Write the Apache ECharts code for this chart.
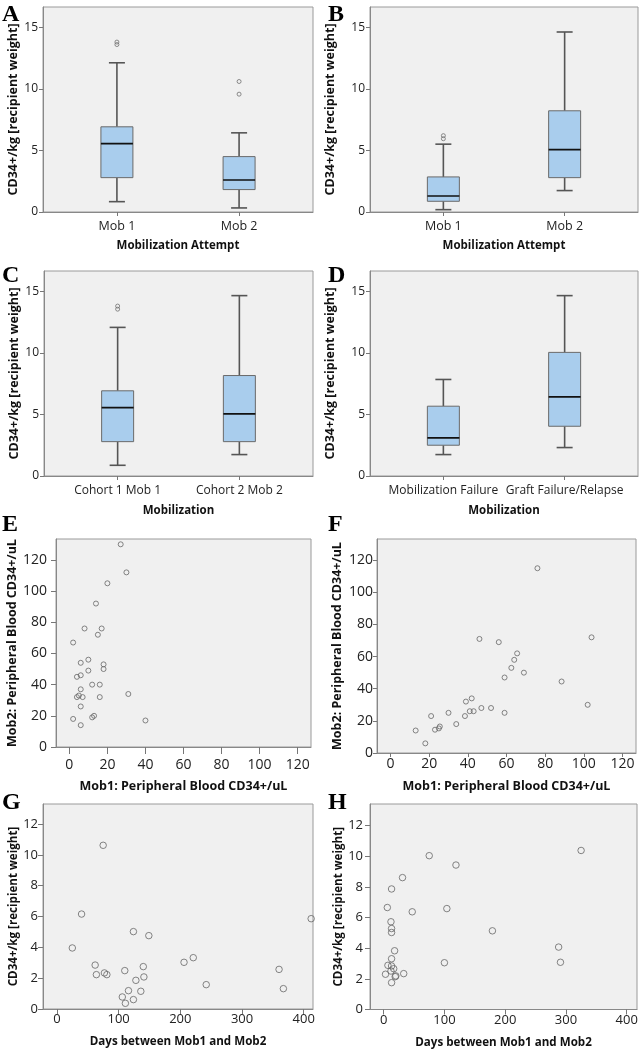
<!DOCTYPE html>
<html><head><meta charset="utf-8">
<script src="https://cdn.jsdelivr.net/npm/echarts@6/dist/echarts.min.js"></script>
<style>html,body{margin:0;padding:0;background:#fff}#c{width:642px;height:1050px}</style>
</head><body><div id="c"></div>
<script>
// ---------- data ----------
const catsMob = ['Mob 1', 'Mob 2'];
const catsCohort = ['Cohort 1 Mob 1', 'Cohort 2 Mob 2'];
const catsOutcome = ['Mobilization Failure', 'Graft Failure/Relapse'];
// [min whisker, Q1, median, Q3, max whisker]
const boxA = [[0.84, 2.79, 5.56, 6.92, 12.12], [0.33, 1.82, 2.60, 4.50, 6.43]];
const outA = [[0, 13.8], [0, 13.6], [1, 10.6], [1, 9.57]];
const boxB = [[0.19, 0.87, 1.30, 2.85, 5.51], [1.74, 2.79, 5.07, 8.22, 14.62]];
const outB = [[0, 6.2], [0, 5.95]];
const boxC = [[0.87, 2.79, 5.56, 6.92, 12.07], [1.74, 2.79, 5.04, 8.16, 14.65]];
const outC = [[0, 13.8], [0, 13.55]];
const boxD = [[1.74, 2.50, 3.09, 5.67, 7.84], [2.31, 4.04, 6.43, 10.04, 14.65]];
const outD = [];
// E: Mob1 PB CD34+/uL vs Mob2 PB CD34+/uL
const ptsE = [[27,130],[30,112],[20,105],[14,92],[8,76],[17,76],[15,72],[2,67],[10,56],[6,54],[18,53],[18,50],[10,49],[6,46],[4,45],[12,40],[16,40],[6,37],[31,34],[5,33],[4,32],[7,32],[16,32],[6,26],[13,20],[12,19],[2,18],[40,17],[6,14]];
// F
const ptsF = [[76,115],[104,72],[46,71],[56,69],[65.5,62],[64,58],[62.5,53],[69,50],[59,47],[88.5,44.5],[42,34],[39,32],[102,30],[47,28],[52,28],[41,26],[43,26],[30,25],[59,25],[21,23],[38.5,23],[34,18],[25.5,16.5],[25,15.3],[23,14.5],[13,14],[18,6]];
// G: days between Mob1 and Mob2 vs CD34+/kg
const ptsG = [[75,10.62],[40,6.16],[412,5.86],[124,5.02],[149,4.76],[25,3.96],[221,3.33],[206,3.03],[62,2.85],[140,2.75],[360,2.57],[110,2.49],[77,2.34],[64,2.23],[81,2.23],[141,2.08],[128,1.86],[242,1.58],[367,1.32],[116,1.19],[136,1.15],[106,0.78],[124,0.61],[111,0.37]];
// H
const ptsH = [[325,10.37],[75,10.03],[119,9.42],[31,8.6],[13,7.86],[6,6.65],[104,6.58],[47,6.37],[12,5.72],[13,5.28],[13,5.02],[179,5.13],[18,3.83],[288,4.07],[291,3.08],[100,3.05],[13,3.31],[7,2.88],[13,2.84],[16.5,2.66],[12,2.51],[3,2.3],[33,2.34],[20,2.19],[19,2.14],[13,1.75]];
// tick labels
const boxYTicks = [0, 5, 10, 15];
const pbTicks = [0, 20, 40, 60, 80, 100, 120];
const daysTicks = [0, 100, 200, 300, 400];
const kgTicks = [0, 2, 4, 6, 8, 10, 12];
const panelLetters = ['A', 'B', 'C', 'D', 'E', 'F', 'G', 'H'];

// ---------- layout ----------
const FONT = 'Open Sans';
const grids = [
  {left: 43, top: 7, width: 270, height: 205},
  {left: 370, top: 7, width: 268, height: 205},
  {left: 44, top: 271, width: 269, height: 205},
  {left: 370, top: 271, width: 268, height: 205},
  {left: 56, top: 539, width: 255, height: 208},
  {left: 377, top: 539, width: 259, height: 214},
  {left: 43, top: 804, width: 270, height: 205},
  {left: 370, top: 804, width: 267, height: 206}
].map(g => Object.assign({show: true, backgroundColor: '#F0F0F0', borderColor: '#9a9a9a', borderWidth: 1, containLabel: false}, g));

const axisLineStyle = {show: true, onZero: false, lineStyle: {color: '#888', width: 1}};

function xAxisCfg(gi, o) {
  return {
    type: 'value', gridIndex: gi, min: o.min, max: o.max, position: 'bottom',
    axisLine: axisLineStyle,
    axisTick: {show: true, customValues: o.ticks, length: o.tickLen, lineStyle: {color: '#777'}},
    axisLabel: {customValues: o.ticks, margin: o.margin, color: '#222', fontFamily: FONT, fontSize: o.fs,
      formatter: o.fmt || (v => String(v))},
    splitLine: {show: false},
    name: o.name, nameLocation: 'middle', nameGap: o.nameGap,
    nameTextStyle: {fontFamily: FONT, fontWeight: 'bold', fontSize: o.nfs, color: '#111'}
  };
}
function yAxisCfg(gi, o) {
  return {
    type: 'value', gridIndex: gi, min: o.min, max: o.max,
    axisLine: axisLineStyle,
    axisTick: {show: true, customValues: o.ticks, length: o.tickLen, lineStyle: {color: '#777'}},
    axisLabel: {customValues: o.ticks, margin: o.margin, color: '#222', fontFamily: FONT, fontSize: o.fs},
    splitLine: {show: false},
    name: o.name, nameLocation: 'middle', nameGap: o.nameGap,
    nameTextStyle: {fontFamily: FONT, fontWeight: 'bold', fontSize: o.nfs, color: '#111'}
  };
}

const boxPanels = [
  {cats: catsMob, box: boxA, out: outA, xName: 'Mobilization Attempt', yGap: 23, xGap: 27.5, lm: 5, cm: 7.5, cfs: 12.5},
  {cats: catsMob, box: boxB, out: outB, xName: 'Mobilization Attempt', yGap: 33, xGap: 27.5, lm: 5, cm: 7.5, cfs: 12.5},
  {cats: catsCohort, box: boxC, out: outC, xName: 'Mobilization', yGap: 23.5, xGap: 28.5, lm: 5, cm: 8.5, cfs: 12},
  {cats: catsOutcome, box: boxD, out: outD, xName: 'Mobilization', yGap: 33, xGap: 28.5, lm: 5, cm: 8.5, cfs: 12}
];
const yNameKg = 'CD34+/kg [recipient weight]';

const xAxes = [], yAxes = [], series = [];

function boxRender(params, api) {
  const x = api.value(0);
  const lo = api.coord([x, api.value(1)]);
  const q1 = api.coord([x, api.value(2)]);
  const md = api.coord([x, api.value(3)]);
  const q3 = api.coord([x, api.value(4)]);
  const hi = api.coord([x, api.value(5)]);
  const hw = 16, cw = 8, cx = lo[0];
  const ws = {stroke: '#555', lineWidth: 1.6};
  return {type: 'group', children: [
    {type: 'line', shape: {x1: cx, y1: hi[1], x2: cx, y2: q3[1]}, style: ws},
    {type: 'line', shape: {x1: cx, y1: q1[1], x2: cx, y2: lo[1]}, style: ws},
    {type: 'line', shape: {x1: cx - cw, y1: hi[1], x2: cx + cw, y2: hi[1]}, style: ws},
    {type: 'line', shape: {x1: cx - cw, y1: lo[1], x2: cx + cw, y2: lo[1]}, style: ws},
    {type: 'rect', shape: {x: cx - hw, y: q3[1], width: 2 * hw, height: q1[1] - q3[1]},
      style: {fill: '#A9CDED', stroke: '#6a6a6a', lineWidth: 1}},
    {type: 'line', shape: {x1: cx - hw, y1: md[1], x2: cx + hw, y2: md[1]}, style: {stroke: '#111', lineWidth: 1.7}}
  ]};
}

boxPanels.forEach((p, i) => {
  xAxes.push(xAxisCfg(i, {min: -0.605, max: 1.605, ticks: [0, 1], tickLen: 4, margin: p.cm, fs: p.cfs,
    fmt: v => p.cats[Math.round(v)], name: p.xName, nameGap: p.xGap, nfs: 11.5}));
  yAxes.push(yAxisCfg(i, {min: 0, max: 16.65, ticks: boxYTicks, tickLen: 4, margin: p.lm, fs: 12,
    name: yNameKg, nameGap: p.yGap, nfs: 12.5}));
  series.push({type: 'custom', xAxisIndex: i, yAxisIndex: i, renderItem: boxRender,
    data: p.box.map((b, k) => [k].concat(b)), z: 2});
  series.push({type: 'scatter', xAxisIndex: i, yAxisIndex: i, data: p.out, symbol: 'circle', symbolSize: 4,
    itemStyle: {color: 'rgba(0,0,0,0)', borderColor: '#707070', borderWidth: 1}, z: 3});
});

const scatterPanels = [
  {pts: ptsE, xMin: -7, xMax: 127, yMax: 133.4, xt: pbTicks, yt: pbTicks, fs: 14, nfs: 12.5, sym: 5,
    xName: 'Mob1: Peripheral Blood CD34+/uL', yName: 'Mob2: Peripheral Blood CD34+/uL',
    xTick: 7, yTick: 5, xm: 11.5, ym: 9, xGap: 33, yGap: 37},
  {pts: ptsF, xMin: -7, xMax: 127, yMax: 133.2, xt: pbTicks, yt: pbTicks, fs: 14, nfs: 12.5, sym: 5,
    xName: 'Mob1: Peripheral Blood CD34+/uL', yName: 'Mob2: Peripheral Blood CD34+/uL',
    xTick: 4, yTick: 4, xm: 4, ym: 4, xGap: 27, yGap: 33},
  {pts: ptsG, xMin: -22.5, xMax: 415, yMax: 13.3, xt: daysTicks, yt: kgTicks, fs: 13, nfs: 11.6, sym: 6.5,
    xName: 'Days between Mob1 and Mob2', yName: yNameKg,
    xTick: 5, yTick: 5, xm: 3.5, ym: 5, xGap: 27, yGap: 23.5},
  {pts: ptsH, xMin: -22.5, xMax: 417, yMax: 13.4, xt: daysTicks, yt: kgTicks, fs: 13, nfs: 11.6, sym: 6.5,
    xName: 'Days between Mob1 and Mob2', yName: yNameKg,
    xTick: 5, yTick: 5, xm: 4.5, ym: 7, xGap: 27.5, yGap: 24}
];

scatterPanels.forEach((p, j) => {
  const i = j + 4;
  xAxes.push(xAxisCfg(i, {min: p.xMin, max: p.xMax, ticks: p.xt, tickLen: p.xTick, margin: p.xm, fs: p.fs,
    name: p.xName, nameGap: p.xGap, nfs: p.nfs}));
  yAxes.push(yAxisCfg(i, {min: 0, max: p.yMax, ticks: p.yt, tickLen: p.yTick, margin: p.ym, fs: p.fs,
    name: p.yName, nameGap: p.yGap, nfs: p.nfs}));
  series.push({type: 'scatter', xAxisIndex: i, yAxisIndex: i, data: p.pts, symbol: 'circle', symbolSize: p.sym,
    itemStyle: {color: 'rgba(0,0,0,0)', borderColor: '#666', borderWidth: 1}, z: 3});
});

const letterPos = [[2, 3], [328, 3], [2, 264], [328, 264], [2, 513], [328, 513], [2, 791], [328, 791]];
const graphic = panelLetters.map((t, k) => ({
  type: 'text', left: letterPos[k][0], top: letterPos[k][1], z: 10,
  style: {text: t, fontFamily: 'Liberation Serif', fontWeight: 'bold', fontSize: 24, fill: '#000'}
}));

const chart = echarts.init(document.getElementById('c'), null, {renderer: 'canvas'});
chart.setOption({
  animation: false,
  backgroundColor: '#fff',
  grid: grids,
  xAxis: xAxes,
  yAxis: yAxes,
  series: series,
  graphic: graphic
});
</script></body></html>
